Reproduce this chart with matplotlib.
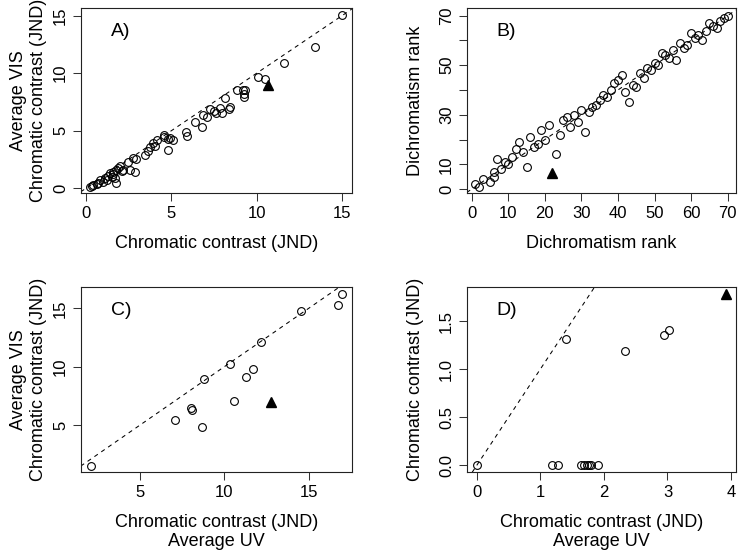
import numpy as np
import matplotlib
matplotlib.use("Agg")
import matplotlib.pyplot as plt

plt.rcParams['font.family'] = ['Liberation Sans', 'DejaVu Sans']

# panel A: average VIS chromatic contrast vs chromatic contrast
a_x = [15.0, 13.44, 11.58, 10.05, 10.46, 8.84, 9.19, 9.33, 9.23, 9.27, 8.16,
       7.86, 8.45, 8.35, 7.96, 7.24, 7.47, 7.63, 7.08, 6.88, 6.4, 6.79, 5.87, 5.9,
       4.54, 4.58, 4.83, 5.12, 4.93, 4.83, 4.15, 3.91, 3.75, 3.66, 3.46, 4.05,
       2.74, 2.93, 2.48, 2.58, 2.87, 2.0, 1.9, 1.76, 1.6, 1.41, 1.31, 1.5, 1.76,
       1.7, 2.19, 2.09, 1.21, 1.02, 0.82, 0.72, 0.63, 0.33, 0.23, 0.43, 1.11, 1.56]
a_y = [15.05, 12.3, 10.9, 9.7, 9.5, 8.5, 8.5, 8.5, 8.2, 7.96, 7.82,
       6.95, 7.04, 6.92, 6.52, 6.86, 6.72, 6.57, 6.17, 6.37, 5.73, 5.3, 4.92, 4.58,
       4.63, 4.43, 4.29, 4.2, 4.34, 3.33, 4.2, 3.91, 3.62, 3.27, 2.9, 3.7,
       2.66, 2.52, 2.32, 1.59, 1.39, 1.97, 1.74, 1.59, 1.45, 1.3, 1.07, 1.01, 0.43,
       0.87, 1.59, 1.5, 0.72, 0.58, 0.72, 0.49, 0.35, 0.2, 0.09, 0.29, 0.87, 1.25]
a_tri = (10.64, 8.98)

# panel B: dichromatism rank vs dichromatism rank
b_x = [1, 2, 3, 5, 6, 6, 7, 8, 9, 10, 11, 12, 13, 14, 15, 16, 17, 18, 19, 20, 21,
       23, 24, 25, 26, 27, 28, 29, 30, 31, 32, 33, 34, 35, 36, 37, 38, 39, 40, 41,
       42, 43, 44, 45, 46, 47, 48, 49, 50, 51, 52, 53, 54, 55, 56, 57, 58, 59, 60,
       61, 62, 63, 64, 65, 66, 67, 68, 69, 70]
b_y = [2, 1, 4, 3, 7, 5, 12, 8, 11, 10, 13, 16, 19, 15, 9, 21, 17, 18, 24, 20, 26,
       14, 22, 28, 29, 25, 30, 27, 32, 23, 31, 33, 34, 36, 38, 37, 40, 43, 44, 46,
       39, 35, 42, 41, 47, 45, 49, 48, 51, 50, 55, 54, 53, 56, 52, 59, 57, 58, 63,
       61, 62, 60, 64, 67, 66, 65, 68, 69, 70]
b_tri = (22, 6.5)

# panel C: average VIS vs average UV
c_x = [2.08, 7.08, 8.0, 8.1, 8.66, 8.79, 10.34, 10.59, 11.26, 11.72, 12.15, 14.53, 16.76, 16.96]
c_y = [1.49, 5.46, 6.43, 6.31, 4.8, 8.97, 10.23, 7.09, 9.14, 9.83, 12.14, 14.8, 15.29, 16.2]
c_tri = (12.75, 7.0)

# panel D
d_x = [0.0, 1.19, 1.28, 1.64, 1.69, 1.73, 1.76, 1.80, 1.91, 1.40, 2.33, 2.95, 3.03]
d_y = [0.0, 0.0, 0.0, 0.0, 0.0, 0.0, 0.0, 0.0, 0.0, 1.317, 1.19, 1.36, 1.41]
d_tri = (3.92, 1.78)

W, H = 738, 553
fig = plt.figure(figsize=(W / 100, H / 100), dpi=100)


def make_ax(left, top, right, bottom):
    return fig.add_axes([left / W, 1 - bottom / H, (right - left) / W, (bottom - top) / H])


axA = make_ax(80.7, 8, 351.7, 193)
axB = make_ax(466.7, 8, 736, 193)
axC = make_ax(80.7, 287.3, 351.7, 472.3)
axD = make_ax(466.7, 287.3, 736, 472.3)

panels = [
    (axA, a_x, a_y, a_tri, (-0.31, 15.56), (-0.41, 15.66), [0, 5, 10, 15], ['0', '5', '10', '15'],
     [0, 5, 10, 15], ['0', '5', '10', '15'], 'A)'),
    (axB, b_x, b_y, b_tri, (-1.4, 72.3), (-1.6, 73.1), list(range(0, 80, 10)),
     [str(v) for v in range(0, 80, 10)], list(range(0, 80, 10)),
     ['0', '10', '', '30', '', '50', '', '70'], 'B)'),
    (axC, c_x, c_y, c_tri, (1.48, 17.55), (0.95, 16.8), [5, 10, 15], ['5', '10', '15'],
     [5, 10, 15], ['5', '10', '15'], 'C)'),
    (axD, d_x, d_y, d_tri, (-0.157, 4.077), (-0.071, 1.851), [0, 1, 2, 3, 4], ['0', '1', '2', '3', '4'],
     [0, 0.5, 1.0, 1.5], ['0.0', '0.5', '1.0', '1.5'], 'D)'),
]

for ax, xs, ys, tri, xl, yl, xt, xtl, yt, ytl, letter in panels:
    ax.axline((0, 0), slope=1, color='black', lw=0.75, ls=(0, (4, 4)), zorder=1)
    ax.plot(xs, ys, 'o', mfc='none', mec='black', ms=5.6, mew=0.8, zorder=2)
    ax.plot([tri[0]], [tri[1]], '^', color='black', ms=7.5, zorder=3)
    ax.set_xlim(xl)
    ax.set_ylim(yl)
    ax.set_xticks(xt)
    ax.set_xticklabels(xtl, fontsize=12)
    ax.set_yticks(yt)
    ax.set_yticklabels(ytl, fontsize=12, rotation=90, va='center')
    ax.tick_params(direction='out', length=6, width=0.75, pad=3, color='#333333')
    for s in ax.spines.values():
        s.set_linewidth(0.8)
        s.set_color('#222222')
    ax.text(0.11, 0.875, letter, transform=ax.transAxes, fontsize=14, ha='left', va='center')

axA.set_xlabel('Chromatic contrast (JND)', fontsize=13)
axA.set_ylabel('Average VIS\nChromatic contrast (JND)', fontsize=13, linespacing=1.25)
axB.set_xlabel('Dichromatism rank', fontsize=13)
axB.set_ylabel('Dichromatism rank', fontsize=13)
axC.set_xlabel('Chromatic contrast (JND)\nAverage UV', fontsize=13, linespacing=1.15)
axC.set_ylabel('Average VIS\nChromatic contrast (JND)', fontsize=13, linespacing=1.25)
axD.set_xlabel('Chromatic contrast (JND)\nAverage UV', fontsize=13, linespacing=1.15)
axD.set_ylabel('Chromatic contrast (JND)', fontsize=13)

for ax in (axA, axC):
    ax.yaxis.set_label_coords(-0.125, 0.5)
    ax.xaxis.set_label_coords(0.5, -0.225)
for ax in (axB, axD):
    ax.yaxis.set_label_coords(-0.16, 0.5)
    ax.xaxis.set_label_coords(0.5, -0.225)

fig.savefig('out.png', dpi=100)
